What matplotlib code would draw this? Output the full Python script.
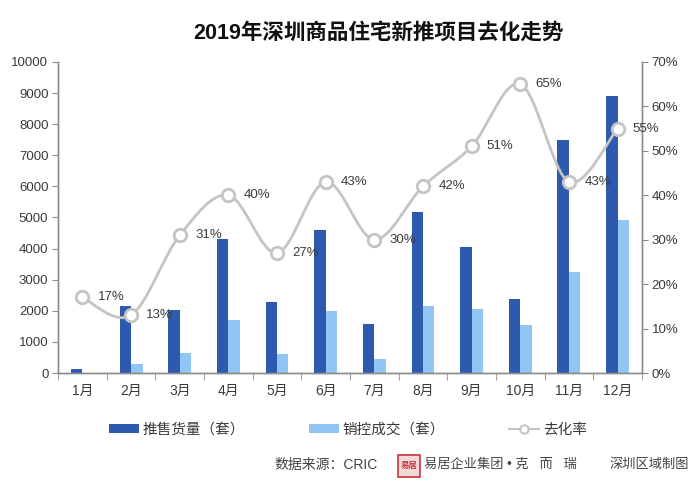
import matplotlib
matplotlib.use('Agg')
import matplotlib.pyplot as plt
import numpy as np
from matplotlib.path import Path
from matplotlib.patches import PathPatch, Rectangle, Patch
from matplotlib.lines import Line2D

plt.rcParams['font.family'] = ['Liberation Sans', 'Noto Sans CJK SC']
plt.rcParams['axes.unicode_minus'] = False

months = ['1月', '2月', '3月', '4月', '5月', '6月', '7月', '8月', '9月', '10月', '11月', '12月']
supply = [130, 2150, 2020, 4300, 2290, 4590, 1560, 5190, 4040, 2380, 7480, 8910]
sold = [0, 290, 630, 1700, 620, 1980, 450, 2160, 2060, 1540, 3240, 4920]
rate = [17, 13, 31, 40, 27, 43, 30, 42, 51, 65, 43, 55]

dark_blue = '#2d5aae'
light_blue = '#92c5f3'
line_gray = '#c4c4c4'
axis_gray = '#8c8c8c'
text_col = '#3a3a3a'

fig = plt.figure(figsize=(7, 4.93), dpi=100)
ax = fig.add_axes([0.083, 0.2434, 0.834, 0.631])
ax2 = ax.twinx()

x = np.arange(len(months))
w = 0.235
ax.bar(x - w / 2, supply, width=w, color=dark_blue, zorder=2)
ax.bar(x + w / 2, sold, width=w, color=light_blue, zorder=2)

ax.set_xlim(-0.5, len(months) - 0.5)
ax.set_ylim(0, 10000)
ax.set_yticks(np.arange(0, 10001, 1000))
ax2.set_ylim(0, 70)
ax2.set_yticks(np.arange(0, 71, 10))
ax2.set_yticklabels([f'{v}%' for v in range(0, 71, 10)])

ax.set_xticks(x)
ax.set_xticklabels(months)
ax.set_xticks(np.arange(-0.5, len(months), 1), minor=True)
ax.tick_params(axis='x', which='major', length=0, pad=8, labelsize=10, labelcolor=text_col)
ax.tick_params(axis='x', which='minor', length=5, color=axis_gray, direction='out')
ax.tick_params(axis='y', length=4, color=axis_gray, labelsize=9.5, labelcolor=text_col, pad=3)
ax2.tick_params(axis='y', length=4, color=axis_gray, labelsize=9.5, labelcolor=text_col, pad=3)

for a in (ax, ax2):
    a.spines['top'].set_visible(False)
    for s in ['left', 'right', 'bottom']:
        a.spines[s].set_color(axis_gray)
        a.spines[s].set_linewidth(1.0)

# smooth line through the rate points (Catmull-Rom as cubic Bezier)
sx, sy = 48.7, 311 / 70.0
px = x * sx
py = np.array(rate, dtype=float) * sy
verts = [(px[0], py[0])]
codes = [Path.MOVETO]
n = len(px)
for i in range(n - 1):
    p0 = (px[max(i - 1, 0)], py[max(i - 1, 0)])
    p1 = (px[i], py[i])
    p2 = (px[i + 1], py[i + 1])
    p3 = (px[min(i + 2, n - 1)], py[min(i + 2, n - 1)])
    c1 = (p1[0] + (p2[0] - p0[0]) / 6, p1[1] + (p2[1] - p0[1]) / 6)
    c2 = (p2[0] - (p3[0] - p1[0]) / 6, p2[1] - (p3[1] - p1[1]) / 6)
    verts += [c1, c2, p2]
    codes += [Path.CURVE4] * 3
verts = [(vx / sx, vy / sy) for vx, vy in verts]
ax2.add_patch(PathPatch(Path(verts, codes), facecolor='none', edgecolor=line_gray, lw=2.0, zorder=3))
ax2.plot(x, rate, linestyle='none', marker='o', markersize=9, markerfacecolor='white',
         markeredgecolor=line_gray, markeredgewidth=2, zorder=4)
for xi, r in zip(x, rate):
    ax2.annotate(f'{r}%', (xi, r), xytext=(11, 0), textcoords='offset points',
                 ha='left', va='center', fontsize=9.5, color=text_col, zorder=5)

fig.text(0.54, 0.933, '2019年深圳商品住宅新推项目去化走势', ha='center', va='center',
         fontsize=15.5, fontweight='bold', color='#111111')

handles = [Patch(facecolor=dark_blue, edgecolor='none'),
           Patch(facecolor=light_blue, edgecolor='none'),
           Line2D([], [], color=line_gray, lw=1.5, marker='o', markersize=6,
                  markerfacecolor='white', markeredgecolor=line_gray, markeredgewidth=1.5)]
labels = ['推售货量（套）', '销控成交（套）', '去化率']
fig.legend(handles, labels, loc='center', bbox_to_anchor=(0.497, 0.128), ncol=3, frameon=False,
           fontsize=10.5, handlelength=2.05, handleheight=0.6, handletextpad=0.25,
           columnspacing=4.4, labelcolor=text_col)

# source line
fig.text(274 / 700, 1 - 465 / 493, '数据来源：CRIC', ha='left', va='center', fontsize=10, color='#444444')
fig.patches.append(Rectangle((398 / 700, 1 - 477 / 493), 22 / 700, 22 / 493, transform=fig.transFigure,
                             facecolor='#f4d8d8', edgecolor='#c9363a', lw=1.2))
fig.text(409 / 700, 1 - 466 / 493, '易居', ha='center', va='center', fontsize=6, color='#c9363a',
         fontweight='bold')
fig.text(424 / 700, 1 - 465 / 493, '易居企业集团 • 克   而   瑞', ha='left', va='center', fontsize=9.5,
         color='#444444')
fig.text(610 / 700, 1 - 465 / 493, '深圳区域制图', ha='left', va='center', fontsize=9.5, color='#444444')

plt.savefig('out.png', dpi=100, facecolor='white')
